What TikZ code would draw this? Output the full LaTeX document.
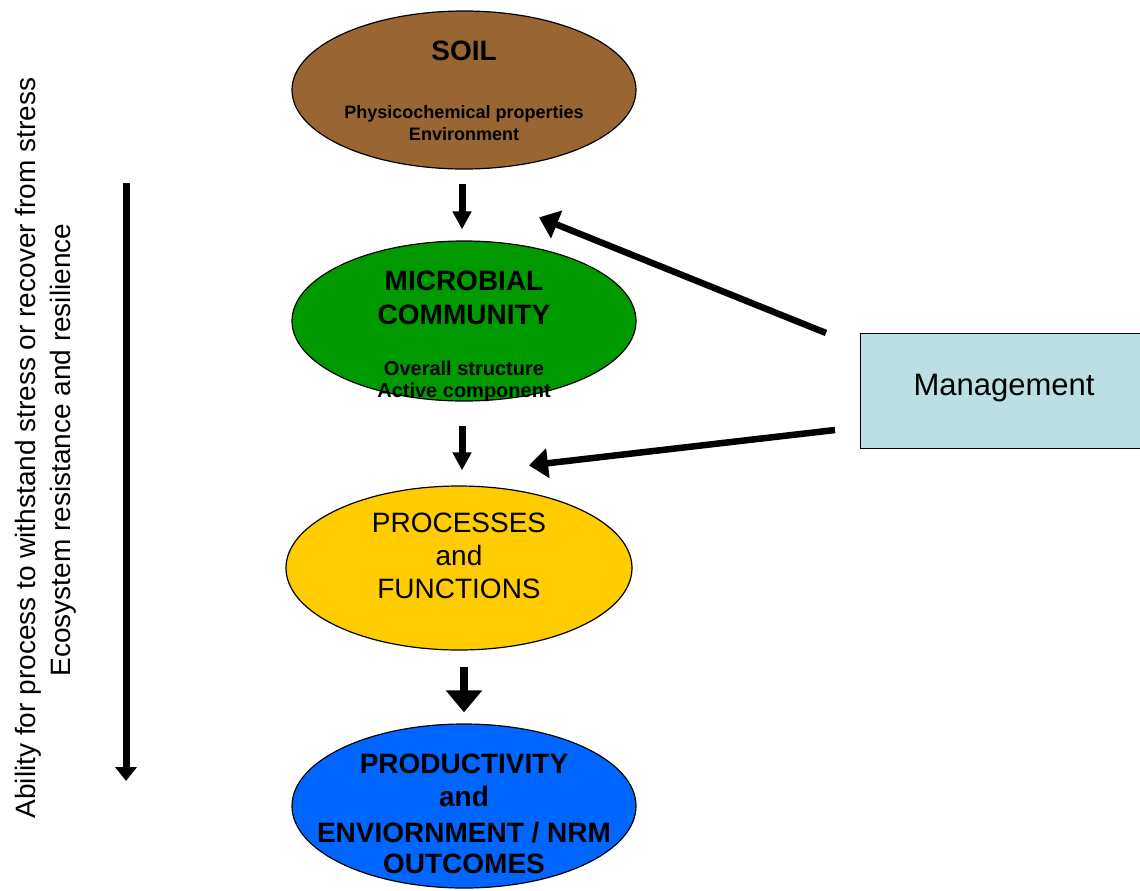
\documentclass[tikz,border=0pt]{standalone}
\usepackage{fontspec}
\setmainfont{Liberation Sans}
\usetikzlibrary{shapes.geometric,arrows.meta,calc}
\definecolor{soilbrown}{HTML}{996633}
\definecolor{microgreen}{HTML}{009900}
\definecolor{procyellow}{HTML}{FFCC00}
\definecolor{prodblue}{HTML}{0066FF}
\definecolor{mgmtblue}{HTML}{BBE0E3}
\begin{document}
\begin{tikzpicture}[x=1pt,y=-1pt,
  blob/.style={ellipse,draw=black,line width=1.2pt,minimum width=344pt,minimum height=158pt,inner sep=0pt},
  head/.style={font=\bfseries\fontsize{28}{33}\selectfont,anchor=base,inner sep=0pt},
  plain/.style={font=\fontsize{28}{33}\selectfont,anchor=base,inner sep=0pt},
  sub/.style={font=\bfseries\fontsize{18}{21}\selectfont,anchor=base,inner sep=0pt},
  subbig/.style={font=\bfseries\fontsize{20}{22}\selectfont,anchor=base,inner sep=0pt},
  flow/.style={line width=7pt,-{Triangle[length=18pt,width=18pt]}},
  bigflow/.style={line width=8pt,-{Triangle[length=22pt,width=35pt]}},
  axis/.style={line width=7pt,-{Triangle[length=14pt,width=21pt]}},
  push/.style={line width=6.5pt,-{Triangle[length=19pt,width=29pt]}},
]
\useasboundingbox (0,0) rectangle (1140,891);

% ellipses of the chain
\node[blob,fill=soilbrown] (soil) at (464,90) {};
\node[blob,fill=microgreen,minimum height=160pt] (micro) at (464,321) {};
\node[blob,fill=procyellow,minimum width=346pt,minimum height=164pt] (proc) at (459,568) {};
\node[blob,fill=prodblue,minimum height=164pt] (prod) at (464,806) {};

% texts inside the ellipses
\node[head] (soilA) at (464,60) {SOIL};
\node[sub] (soilB) at (464,118) {Physicochemical properties};
\node[sub] (soilC) at (464,140) {Environment};

\node[head] (microA) at (464,290) {MICROBIAL};
\node[head] (microB) at (464,324) {COMMUNITY};
\node[subbig] (microC) at (464,375) {Overall structure};
\node[subbig] (microD) at (464,397) {Active component};

\node[plain] (procA) at (459,532) {PROCESSES};
\node[plain] (procB) at (459,565) {and};
\node[plain] (procC) at (459,598) {FUNCTIONS};

\node[head] (prodA) at (464,773) {PRODUCTIVITY};
\node[head] (prodB) at (464,806) {and};
\node[head] (prodC) at (464,842) {ENVIORNMENT / NRM};
\node[head] (prodD) at (464,873) {OUTCOMES};

% management box
\node[draw=black,fill=mgmtblue,line width=1.2pt,minimum width=290pt,minimum height=115pt,
      anchor=north west,inner sep=0pt] (mgmt) at (860,333) {};
\node[font=\fontsize{31}{36}\selectfont,anchor=base,inner sep=0pt] (mgmtT) at (1004,395) {Management};

% vertical flow arrows
\draw[flow] ($(soil.south)+(-2,14)$) -- ($(micro.north)+(-2,-11)$);
\draw[flow] ($(micro.south)+(-2,24)$) -- ($(proc.north)+(3,-15)$);
\draw[bigflow] ($(proc.south)+(5,16)$) -- ($(prod.north)+(0,-11)$);

% management arrows
\coordinate (m1) at ($(mgmt.north west)+(-34,0)$);
\coordinate (m1tip) at ($(micro.north)+(75,-23)$);
\coordinate (m2) at ($(mgmt.north west)+(-25,97)$);
\coordinate (m2tip) at ($(proc.north)+(70,-20)$);
\draw[push] (m1) -- (m1tip);
\draw[push] (m2) -- (m2tip);

% resistance axis
\coordinate (axtop) at (126,183);
\coordinate (axbot) at (126,781);
\draw[axis] (axtop) -- (axbot);
\node[plain,rotate=90] (axA) at (35,448) {Ability for process to withstand stress or recover from stress};
\node[plain,rotate=90] (axB) at (70,450) {Ecosystem resistance and resilience};
\end{tikzpicture}
\end{document}
